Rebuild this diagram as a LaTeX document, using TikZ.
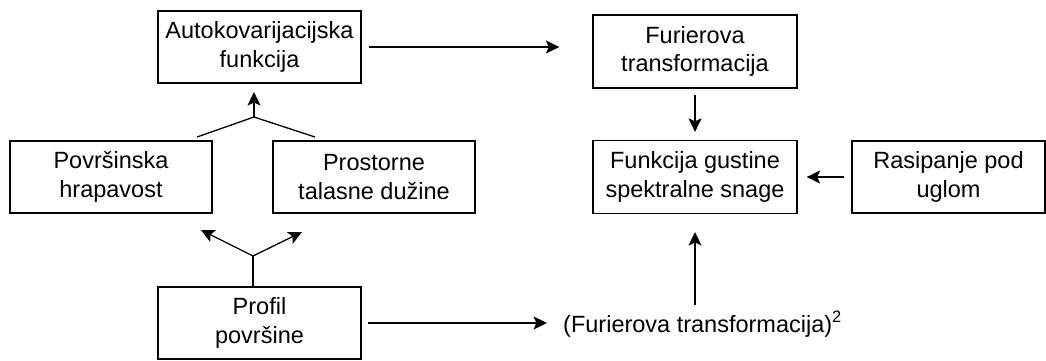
\documentclass[tikz,border=0pt]{standalone}
\usepackage{fontspec}
\setmainfont{Liberation Sans}
\usetikzlibrary{arrows.meta,calc}
\begin{document}
\begin{tikzpicture}[x=1pt,y=-1pt,
  box/.style={draw,line width=1.3pt,rectangle,align=center,inner sep=0pt,
    font=\fontsize{23.5}{28.5}\selectfont},
  conn/.style={line width=1.3pt},
  arr/.style={conn,-{Stealth[length=13.5pt,width=13pt,inset=3pt]}}]
\useasboundingbox (0,0) rectangle (1046,360);
% boxes
\node[box,minimum width=203pt,minimum height=72pt] (auto) at (259.5,47) {Autokovarijacijska\\funkcija};
\node[box,minimum width=202pt,minimum height=72pt] (pov) at (111,177) {Površinska\\hrapavost};
\node[box,minimum width=202pt,minimum height=72pt] (pros) at (374,177) {Prostorne\\talasne dužine};
\node[box,minimum width=203pt,minimum height=72pt] (prof) at (259.5,323) {Profil\\površine};
\node[box,minimum width=204pt,minimum height=73pt] (fur) at (695,51.5) {Furierova\\transformacija};
\node[box,minimum width=204pt,minimum height=73pt] (funk) at (695,177) {Funkcija gustine\\spektralne snage};
\node[box,minimum width=193pt,minimum height=72pt] (ras) at (948.5,177) {Rasipanje pod\\uglom};
\node[anchor=base west,inner sep=0pt,font=\fontsize{23.5}{28.5}\selectfont] (ft) at (563,332) {(Furierova transformacija)\textsuperscript{2}};
% coordinates
\coordinate (j1) at (254,117);
\coordinate (j1l) at (197,137);
\coordinate (j1r) at (315,137);
\coordinate (j2) at (253,256);
\coordinate (j2l) at (201,230);
\coordinate (j2r) at (302,232);
\coordinate (ps) at (253,287);
\coordinate (fta) at (695,305);
\coordinate (ftb) at (695,232);
% connectors
\draw[arr,shorten <=7pt,shorten >=33pt] (auto.east) -- (fur.west |- auto.east);
\draw[conn] (j1l) -- (j1) -- (j1r);
\draw[arr] (j1) -- (254,92);
\draw[conn] (ps) -- (j2);
\draw[arr] (j2) -- (j2l);
\draw[arr] (j2) -- (j2r);
\draw[arr,shorten <=6pt,shorten >=16pt] (prof.east) -- (ft.west |- prof.east);
\draw[arr] (fta) -- (ftb);
\draw[arr,shorten <=6pt,shorten >=8pt] (fur.south) -- (funk.north);
\draw[arr,shorten <=7pt,shorten >=9pt] (ras.west) -- (funk.east);
\end{tikzpicture}
\end{document}
